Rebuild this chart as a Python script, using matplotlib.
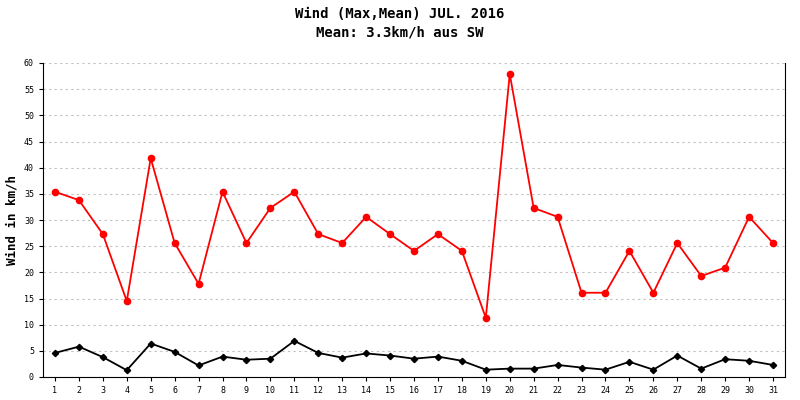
import matplotlib
matplotlib.use("Agg")
import matplotlib.pyplot as plt

days = list(range(1, 32))
wind_max = [35.4, 33.8, 27.3, 14.5, 41.8, 25.6, 17.8, 35.4, 25.6, 32.3, 35.4, 27.3, 25.6, 30.6, 27.3, 24.1,
            27.3, 24.1, 11.3, 57.9, 32.3, 30.6, 16.1, 16.1, 24.1, 16.1, 25.6, 19.3, 20.9, 30.6, 25.6]
wind_mean = [4.6, 5.8, 3.8, 1.3, 6.4, 4.8, 2.2, 3.9, 3.3, 3.5, 6.9, 4.6, 3.7, 4.5, 4.1, 3.5,
             3.9, 3.1, 1.4, 1.6, 1.6, 2.3, 1.8, 1.4, 2.9, 1.4, 4.1, 1.6, 3.4, 3.1, 2.3]
yticks = list(range(0, 61, 5))

fig = plt.figure(figsize=(8, 4), dpi=100)
ax = fig.add_axes([43/800, 23/400, 742/800, 314/400])
ax.plot(days, wind_max, color="#ff0000", marker="o", markersize=4.5, lw=1.3)
ax.plot(days, wind_mean, color="black", marker="D", markersize=3.2, lw=1.3)
ax.set_xlim(0.5, 31.5)
ax.set_ylim(0, 60)
ax.set_xticks(days)
ax.set_yticks(yticks)
ax.spines["top"].set_visible(False)
ax.tick_params(labelsize=6, length=3)
for l in ax.get_xticklabels() + ax.get_yticklabels():
    l.set_family("DejaVu Sans Mono")
ax.grid(axis="y", ls=(0, (2, 3)), color="#c0c0c0", lw=0.8)
ax.set_ylabel("Wind in km/h", family="DejaVu Sans Mono", fontweight="bold", fontsize=9)
fig.text(0.5, 0.965, "Wind (Max,Mean) JUL. 2016", ha="center", va="center",
         family="DejaVu Sans Mono", fontweight="bold", fontsize=10)
fig.text(0.5, 0.92, "Mean: 3.3km/h aus SW", ha="center", va="center",
         family="DejaVu Sans Mono", fontweight="bold", fontsize=10)
fig.savefig("out.png", dpi=100)
